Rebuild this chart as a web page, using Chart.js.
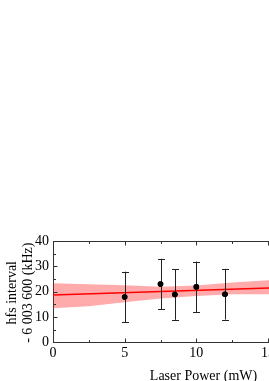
<!DOCTYPE html>
<html lang="en">
<head>
<meta charset="UTF-8" />
<title>hfs interval vs laser power</title>
<script src="https://cdn.jsdelivr.net/npm/chart.js"></script>
<style>
  html, body { margin: 0; padding: 0; background: white; overflow: hidden; }
  #wrap { position: absolute; left: 0; top: 0; width: 372px; height: 386px; }
</style>
</head>
<body>
<div id="wrap"><canvas id="chart" width="372" height="386"></canvas></div>
<script>
  // measured points (mW, kHz above 6 003 600)
  const power = [5, 7.5, 8.5, 10, 12];
  const hfs = [17.9, 23.0, 18.9, 21.9, 19.0];
  const hfsErr = [10, 10, 10, 10, 10];

  // linear fit and its confidence band
  const fitX = [0, 21];
  const fitY = [18.7, 22.5];
  const bandX = [0, 2.5, 5, 7.5, 10, 12.5, 15, 17.5, 20, 21];
  const bandUpper = [23.3, 22.9, 22.5, 22.0, 22.4, 23.6, 24.5, 25.4, 26.3, 26.7];
  const bandLower = [13.5, 14.3, 15.8, 17.3, 18.3, 19.0, 19.0, 19.1, 19.3, 19.4];

  const xTicks = [0, 5, 10, 15, 20];
  const xMinor = [2.5, 7.5, 12.5, 17.5];
  const yTicks = [0, 10, 20, 30, 40];
  const yMinor = [5, 15, 25, 35];

  const serif = "'Liberation Serif', 'Times New Roman', serif";
  const axisColor = '#333';

  const pts = (xs, ys) => xs.map((x, i) => ({ x: x, y: ys[i] }));

  // error bars, inward ticks, top/right frame and y title
  const extras = {
    id: 'extras',
    afterDatasetsDraw(chart) {
      const c = chart.ctx, xs = chart.scales.x, ys = chart.scales.y, a = chart.chartArea;
      c.save();
      c.strokeStyle = '#222';
      c.lineWidth = 1;
      power.forEach((p, i) => {
        const px = Math.round(xs.getPixelForValue(p)) + 0.5;
        const top = ys.getPixelForValue(hfs[i] + hfsErr[i]);
        const bot = ys.getPixelForValue(hfs[i] - hfsErr[i]);
        c.beginPath();
        c.moveTo(px, top); c.lineTo(px, bot);
        c.moveTo(px - 3.5, Math.round(top) + 0.5); c.lineTo(px + 3.5, Math.round(top) + 0.5);
        c.moveTo(px - 3.5, Math.round(bot) + 0.5); c.lineTo(px + 3.5, Math.round(bot) + 0.5);
        c.stroke();
      });
      // redraw points on top of bars
      c.fillStyle = '#000';
      power.forEach((p, i) => {
        c.beginPath();
        c.arc(xs.getPixelForValue(p), ys.getPixelForValue(hfs[i]), 2.8, 0, Math.PI * 2);
        c.fill();
      });

      c.strokeStyle = axisColor;
      c.lineWidth = 1;
      const L = Math.round(a.left) + 0.5, T = Math.round(a.top) + 0.5;
      const B = Math.round(a.bottom) + 0.5, R = Math.round(a.right) + 0.5;
      c.beginPath();
      c.moveTo(L, T); c.lineTo(R, T); c.lineTo(R, B);
      const tick = (vals, len) => {
        vals.forEach(v => {
          const px = Math.round(xs.getPixelForValue(v)) + 0.5;
          c.moveTo(px, B); c.lineTo(px, B - len);
          c.moveTo(px, T); c.lineTo(px, T + len);
        });
      };
      const ytick = (vals, len) => {
        vals.forEach(v => {
          const py = Math.round(ys.getPixelForValue(v)) + 0.5;
          c.moveTo(L, py); c.lineTo(L + len, py);
          c.moveTo(R, py); c.lineTo(R - len, py);
        });
      };
      tick(xTicks, 4); tick(xMinor, 2.5);
      ytick(yTicks, 4); ytick(yMinor, 2.5);
      c.stroke();

      // two-line y title
      c.fillStyle = '#000';
      c.font = '14px ' + serif;
      c.textAlign = 'center';
      c.textBaseline = 'middle';
      const cy = (a.top + a.bottom) / 2 + 1;
      c.translate(12, cy);
      c.rotate(-Math.PI / 2);
      c.fillText('hfs interval', 0, 0);
      c.fillText('- 6 003 600 (kHz)', 0, 16.5);
      c.restore();
    }
  };

  new Chart(document.getElementById('chart'), {
    type: 'scatter',
    data: {
      datasets: [
        {
          label: 'band upper',
          data: pts(bandX, bandUpper),
          showLine: true,
          borderWidth: 0,
          pointRadius: 0,
          fill: false,
          order: 3
        },
        {
          label: 'band lower',
          data: pts(bandX, bandLower),
          showLine: true,
          borderWidth: 0,
          pointRadius: 0,
          backgroundColor: 'rgba(255, 0, 0, 0.33)',
          fill: '-1',
          order: 3
        },
        {
          label: 'fit',
          data: pts(fitX, fitY),
          showLine: true,
          borderColor: '#f00',
          borderWidth: 1.5,
          pointRadius: 0,
          fill: false,
          order: 2
        },
        {
          label: 'data',
          data: pts(power, hfs),
          pointRadius: 2.8,
          backgroundColor: '#000',
          borderWidth: 0,
          order: 1
        }
      ]
    },
    options: {
      responsive: false,
      animation: false,
      layout: { padding: { top: 241, left: 31, right: 18, bottom: 1 } },
      plugins: { legend: { display: false }, tooltip: { enabled: false } },
      scales: {
        x: {
          type: 'linear',
          min: 0,
          max: 21,
          afterBuildTicks: s => { s.ticks = xTicks.map(v => ({ value: v })); },
          grid: { display: false, drawTicks: false },
          border: { display: true, color: axisColor, width: 1 },
          ticks: { color: '#000', padding: 3, font: { family: serif, size: 14 } },
          title: {
            display: true,
            text: 'Laser Power (mW)',
            color: '#000',
            padding: { top: 3, bottom: 0 },
            font: { family: serif, size: 14 }
          }
        },
        y: {
          min: 0,
          max: 40,
          afterBuildTicks: s => { s.ticks = yTicks.map(v => ({ value: v })); },
          grid: { display: false, drawTicks: false },
          border: { display: true, color: axisColor, width: 1 },
          ticks: { color: '#000', padding: 4, font: { family: serif, size: 14 } }
        }
      }
    },
    plugins: [extras]
  });
</script>
</body>
</html>
